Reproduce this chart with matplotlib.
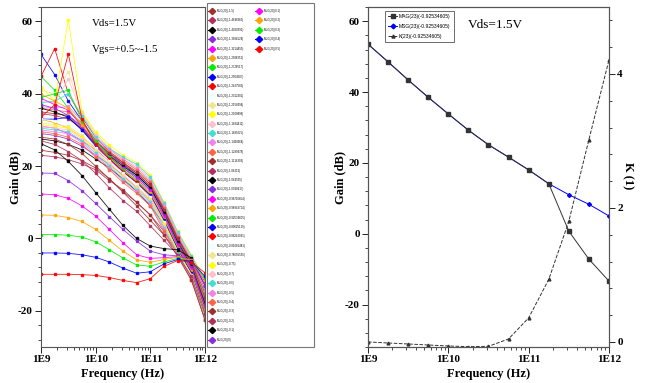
import matplotlib
matplotlib.use('Agg')
import matplotlib.pyplot as plt
from matplotlib.lines import Line2D
from matplotlib.patches import Rectangle
from matplotlib.ticker import MultipleLocator, LogLocator, NullFormatter

plt.rcParams['axes.unicode_minus'] = False

# частоты, Гц
freq = [1e9, 1.78e9, 3.16e9, 5.62e9, 1e10, 1.78e10, 3.16e10, 5.62e10,
        1e11, 1.78e11, 3.16e11, 5.62e11, 1e12]

vgs_labels = ['-1.5', '-1.4646365', '-1.4060391', '-1.3994524', '-1.3214459',
              '-1.2936351', '-1.2726517', '-1.2564507', '-1.2427581', '-1.2312301',
              '-1.2158394', '-1.2008898', '-1.1834411', '-1.1689225', '-1.1458364',
              '-1.1289478', '-1.1116303', '-1.06215', '-1.064535', '-1.0028417',
              '-0.98716654', '-0.96943714', '-0.92534605', '-0.89625129', '-0.86242091',
              '-0.81681481', '-0.76655556', '-0.75', '-0.7', '-0.6',
              '-0.5', '-0.4', '-0.3', '-0.2', '-0.1',
              '0', '0.1', '0.2', '0.3', '0.4', '0.5']

# MUG (dB) для каждого Vgs, по порядку легенды
mug_gain = [
    [24.4, 23.8, 23.0, 21.5, 19.5, 16.5, 12.8, 9.0, 5.0, 1.0, -4.0, -10.5, -22.5],
    [23.0, 22.6, 21.8, 20.6, 19.0, 16.0, 13.5, 10.0, 6.5, 2.0, -3.5, -10.0, -21.0],
    [27.5, 27.0, 26.0, 24.5, 22.0, 19.5, 16.5, 13.0, 9.0, 4.0, -2.5, -9.0, -19.0],
    [29.0, 28.5, 27.5, 25.5, 23.0, 20.5, 17.5, 14.0, 10.5, 5.0, -2.0, -8.5, -18.0],
    [31.0, 30.5, 29.0, 27.0, 24.5, 21.5, 18.5, 15.5, 11.5, 6.0, -1.5, -8.0, -20.0],
    [33.0, 32.0, 30.5, 28.0, 25.0, 22.0, 19.0, 16.0, 12.5, 6.5, -1.0, -7.5, -17.0],
    [44.8, 41.0, 36.0, 31.0, 26.5, 23.0, 20.0, 17.0, 13.5, 7.5, -0.5, -7.0, -16.0],
    [50.9, 45.3, 38.0, 32.5, 27.0, 23.5, 20.5, 17.5, 14.0, 8.0, 0.0, -6.5, -15.0],
    [44.8, 52.5, 40.0, 33.5, 28.0, 24.0, 21.0, 18.0, 14.5, 8.5, 0.5, -6.0, -14.0],
    [40.0, 39.0, 40.5, 34.0, 28.5, 24.5, 21.5, 18.5, 15.0, 9.0, 1.0, -5.5, -13.0],
    [41.0, 40.0, 46.0, 35.0, 29.0, 25.0, 22.0, 19.0, 15.5, 9.5, 1.5, -5.0, -12.0],
    [42.0, 38.0, 60.5, 35.0, 29.5, 25.8, 23.0, 21.0, 17.5, 10.0, 2.0, -4.5, -11.0],
    [38.0, 37.5, 44.0, 34.5, 28.5, 25.0, 22.5, 20.0, 16.5, 9.5, 1.5, -5.0, -13.5],
    [37.5, 38.0, 40.0, 34.0, 28.0, 24.8, 22.5, 20.5, 17.0, 9.8, 1.8, -4.8, -11.5],
    [36.5, 36.0, 36.5, 32.5, 27.5, 24.5, 22.0, 19.5, 16.0, 9.0, 1.0, -5.5, -14.5],
    [36.0, 35.5, 35.0, 32.0, 27.0, 24.0, 21.5, 19.0, 15.5, 8.5, 0.5, -6.0, -15.5],
    [35.0, 34.5, 34.0, 31.0, 26.5, 23.5, 21.0, 18.5, 15.0, 8.0, 0.0, -6.5, -16.5],
    [34.5, 34.0, 33.0, 30.5, 26.0, 23.0, 20.5, 18.0, 14.5, 7.5, -0.5, -7.0, -17.5],
    [36.0, 35.0, 33.5, 30.0, 26.0, 22.8, 20.0, 17.5, 14.0, 7.0, -1.0, -7.5, -18.0],
    [37.0, 36.0, 34.0, 30.5, 26.0, 22.5, 19.5, 17.0, 13.5, 6.5, -1.5, -8.0, -18.5],
    [38.8, 37.0, 35.5, 31.0, 26.5, 22.5, 19.5, 16.5, 13.0, 6.0, -2.0, -8.5, -19.5],
    [39.9, 38.0, 36.0, 31.5, 26.5, 22.5, 19.0, 16.0, 12.5, 5.5, -2.5, -9.0, -20.0],
    [39.0, 40.0, 41.0, 32.5, 27.0, 22.5, 19.0, 16.0, 12.0, 5.0, -3.0, -9.5, -20.5],
    [33.0, 33.0, 33.5, 30.0, 25.5, 22.0, 18.5, 15.5, 12.0, 5.0, -3.0, -9.5, -21.0],
    [33.5, 37.0, 51.0, 33.0, 26.0, 22.0, 18.5, 15.5, 11.5, 4.5, -3.5, -10.0, -21.0],
    [33.0, 32.5, 32.0, 29.0, 25.0, 21.5, 18.0, 15.0, 11.5, 4.5, -3.5, -10.0, -21.5],
    [32.0, 31.5, 31.0, 28.5, 24.5, 21.0, 17.5, 14.5, 11.0, 4.0, -3.5, -10.0, -21.0],
    [31.5, 31.0, 30.5, 28.0, 24.0, 20.5, 17.0, 14.0, 10.5, 4.0, -3.5, -10.5, -21.5],
    [31.0, 30.5, 30.0, 27.5, 24.0, 20.5, 17.0, 14.0, 10.5, 3.5, -4.0, -10.5, -22.0],
    [30.5, 30.0, 29.5, 27.0, 23.5, 20.0, 16.5, 13.5, 10.0, 3.0, -4.0, -11.0, -22.0],
    [30.0, 29.5, 29.0, 26.5, 23.0, 19.5, 16.0, 13.0, 9.5, 2.5, -4.5, -11.0, -22.5],
    [29.5, 29.0, 28.0, 26.0, 22.5, 19.0, 15.5, 12.5, 9.0, 2.0, -4.5, -11.5, -22.5],
    [28.0, 27.5, 26.0, 23.5, 20.0, 16.5, 13.0, 10.0, 6.5, 1.0, -5.0, -11.5, -22.5],
    [27.0, 26.0, 24.0, 21.5, 18.0, 14.0, 10.5, 7.5, 3.5, -0.5, -4.5, -10.5, -21.0],
    [26.2, 24.5, 21.3, 17.4, 12.7, 8.1, 3.6, 0.0, -2.1, -2.8, -3.1, -5.4, -13.0],
    [18.1, 18.0, 16.0, 13.2, 9.7, 6.0, 2.5, -0.7, -3.5, -4.5, -4.8, -6.0, -13.0],
    [12.3, 12.1, 11.1, 9.0, 6.2, 2.5, -1.2, -4.5, -5.5, -5.3, -5.0, -6.0, -12.0],
    [6.5, 6.4, 5.8, 4.7, 2.5, -0.5, -3.5, -5.9, -6.6, -5.8, -5.2, -6.0, -11.5],
    [1.1, 1.1, 0.9, 0.4, -0.9, -3.1, -5.4, -7.3, -7.7, -6.5, -5.5, -6.2, -11.0],
    [-4.0, -4.0, -4.1, -4.5, -5.2, -6.5, -8.2, -9.6, -9.2, -7.0, -5.8, -6.3, -10.5],
    [-9.9, -9.9, -9.9, -10.0, -10.2, -10.8, -11.6, -12.2, -11.1, -7.7, -6.1, -6.5, -9.5],
]

# правый график, Vgs = -0.92534605
mag = [53.5, 48.5, 43.4, 38.5, 33.8, 29.2, 25.1, 21.6, 18.0, 14.1, 0.7, -7.2, -13.4]
msg = [53.5, 48.5, 43.4, 38.5, 33.8, 29.2, 25.1, 21.6, 18.0, 14.1, 11.0, 8.3, 5.0]
k_factor = [0.0, -0.015, -0.03, -0.045, -0.06, -0.07, -0.065, 0.045, 0.36, 0.935, 1.8, 3.02, 4.21]

palette = ['#a0302c', '#b0305a', '#000000', '#8a2be2', '#ff00ff', '#ffa500',
           '#00ee00', '#0000ff', '#ff0000', '#f0ffff', '#f0e68c', '#ffff00',
           '#ffc0cb', '#40e0d0', '#ee82ee', '#ff6347']

serif = 'Liberation Serif'

fig = plt.figure(figsize=(6.49, 3.83), dpi=100)
ax1 = fig.add_axes([41 / 649, 36 / 383, 164 / 649, 340 / 383])
ax2 = fig.add_axes([368 / 649, 36 / 383, 241 / 649, 340 / 383])
axk = ax2.twinx()


def style_axis(ax, ylim):
    ax.set_xscale('log')
    ax.set_xlim(1e9, 1e12)
    ax.set_ylim(*ylim)
    ax.set_xticks([1e9, 1e10, 1e11, 1e12], ['1E9', '1E10', '1E11', '1E12'])
    ax.xaxis.set_minor_locator(LogLocator(base=10, subs=range(2, 10)))
    ax.xaxis.set_minor_formatter(NullFormatter())
    ax.yaxis.set_major_locator(MultipleLocator(20))
    ax.yaxis.set_minor_locator(MultipleLocator(4))
    ax.tick_params(which='major', length=4, width=0.6, pad=2, labelsize=8)
    ax.tick_params(which='minor', length=2, width=0.5)
    for lab in ax.get_xticklabels() + ax.get_yticklabels():
        lab.set_fontfamily(serif)
        lab.set_fontweight('bold')
    for sp in ax.spines.values():
        sp.set_linewidth(0.8)
        sp.set_color('#555555')
    ax.set_xlabel('Frequency (Hz)', fontfamily=serif, fontweight='bold',
                  fontsize=9, va='center')
    ax.xaxis.set_label_coords(0.5, -0.079)


# --- левый график: семейство MUG ---
style_axis(ax1, (-30, 64))
handles = []
for i, vals in enumerate(mug_gain):
    c = palette[i % len(palette)]
    ax1.plot(freq, vals, color=c, lw=0.6, marker='s', ms=1.6, mec=c, alpha=0.9)
    handles.append(Line2D([], [], color=c, lw=0.8, marker='D', ms=3.2, mec=c))
labels = ['MUG(23)(%s)' % v for v in vgs_labels]

ax1.set_ylabel('Gain (dB)', fontfamily=serif, fontweight='bold', fontsize=9, va='center')
ax1.yaxis.set_label_coords(-0.155, 0.5)
ax1.text(0.311, 0.95, 'Vds=1.5V', transform=ax1.transAxes, fontfamily=serif,
         fontsize=7.8, va='center')
ax1.text(0.311, 0.874, 'Vgs=+0.5~-1.5', transform=ax1.transAxes, fontfamily=serif,
         fontsize=7.8, va='center')

# легенда: 36 строк в первой колонке, 5 во второй
blank = Line2D([], [], ls='none')
n1 = 36
leg_h = handles[:n1] + handles[n1:] + [blank] * (2 * n1 - len(handles))
leg_l = labels[:n1] + labels[n1:] + [''] * (2 * n1 - len(handles))
fig.add_artist(Rectangle((207 / 649, 36 / 383), 107 / 649, 344 / 383,
                         transform=fig.transFigure, fill=False, lw=0.8,
                         ec='#777777'))
fig.legend(leg_h, leg_l, loc='upper left', bbox_to_anchor=(208 / 649, 1 - 9 / 383),
           ncol=2, frameon=False, borderaxespad=0, borderpad=0,
           prop={'family': 'Liberation Sans', 'size': 2.0},
           labelspacing=1.94, handlelength=2.6, handletextpad=0.5,
           columnspacing=3.5)

# --- правый график: MAG, MSG, K ---
style_axis(ax2, (-32, 64))
ax2.plot(freq, msg, color='#0000ff', lw=0.7, marker='D', ms=2.0, zorder=2)
ax2.plot(freq, mag, color='#333333', lw=0.7, marker='s', ms=2.6, zorder=3)
ax2.set_ylabel('Gain (dB)', fontfamily=serif, fontweight='bold', fontsize=9, va='center')
ax2.yaxis.set_label_coords(-0.116, 0.5)
ax2.text(0.529, 0.947, 'Vds=1.5V', transform=ax2.transAxes, fontfamily=serif,
         fontsize=9.5, ha='center', va='center')

axk.plot(freq, k_factor, color='#333333', lw=0.7, ls='--', marker='^', ms=2.0)
axk.set_ylim(-0.075, 5.0)
axk.yaxis.set_major_locator(MultipleLocator(2))
axk.yaxis.set_minor_locator(MultipleLocator(0.4))
axk.tick_params(which='major', length=4, width=0.6, pad=2, labelsize=8)
axk.tick_params(which='minor', length=2, width=0.5)
for lab in axk.get_yticklabels():
    lab.set_fontfamily(serif)
    lab.set_fontweight('bold')
for sp in axk.spines.values():
    sp.set_linewidth(0.8)
    sp.set_color('#555555')
axk.set_ylabel('K (1)', rotation=270, fontfamily=serif, fontweight='bold',
               fontsize=9, va='center')
axk.yaxis.set_label_coords(1.077, 0.503)

rh = [Line2D([], [], color='#333333', lw=0.7, marker='s', ms=2.4),
      Line2D([], [], color='#0000ff', lw=0.7, marker='D', ms=2.4),
      Line2D([], [], color='#333333', lw=0.7, ls='--', marker='^', ms=2.2)]
rl = ['MAG(23)(-0.92534605)', 'MSG(23)(-0.92534605)', 'K(23)(-0.92534605)']
lg = axk.legend(rh, rl, loc='upper left', bbox_to_anchor=(17 / 241, 1 - 4 / 340),
                borderaxespad=0, prop={'family': 'Liberation Sans', 'size': 3.6},
                labelspacing=1.0, handlelength=1.8, handletextpad=0.4,
                borderpad=0.6, fancybox=False, framealpha=1)
lg.get_frame().set_linewidth(0.6)
lg.get_frame().set_edgecolor('#555555')

fig.savefig('out.png', dpi=100)
